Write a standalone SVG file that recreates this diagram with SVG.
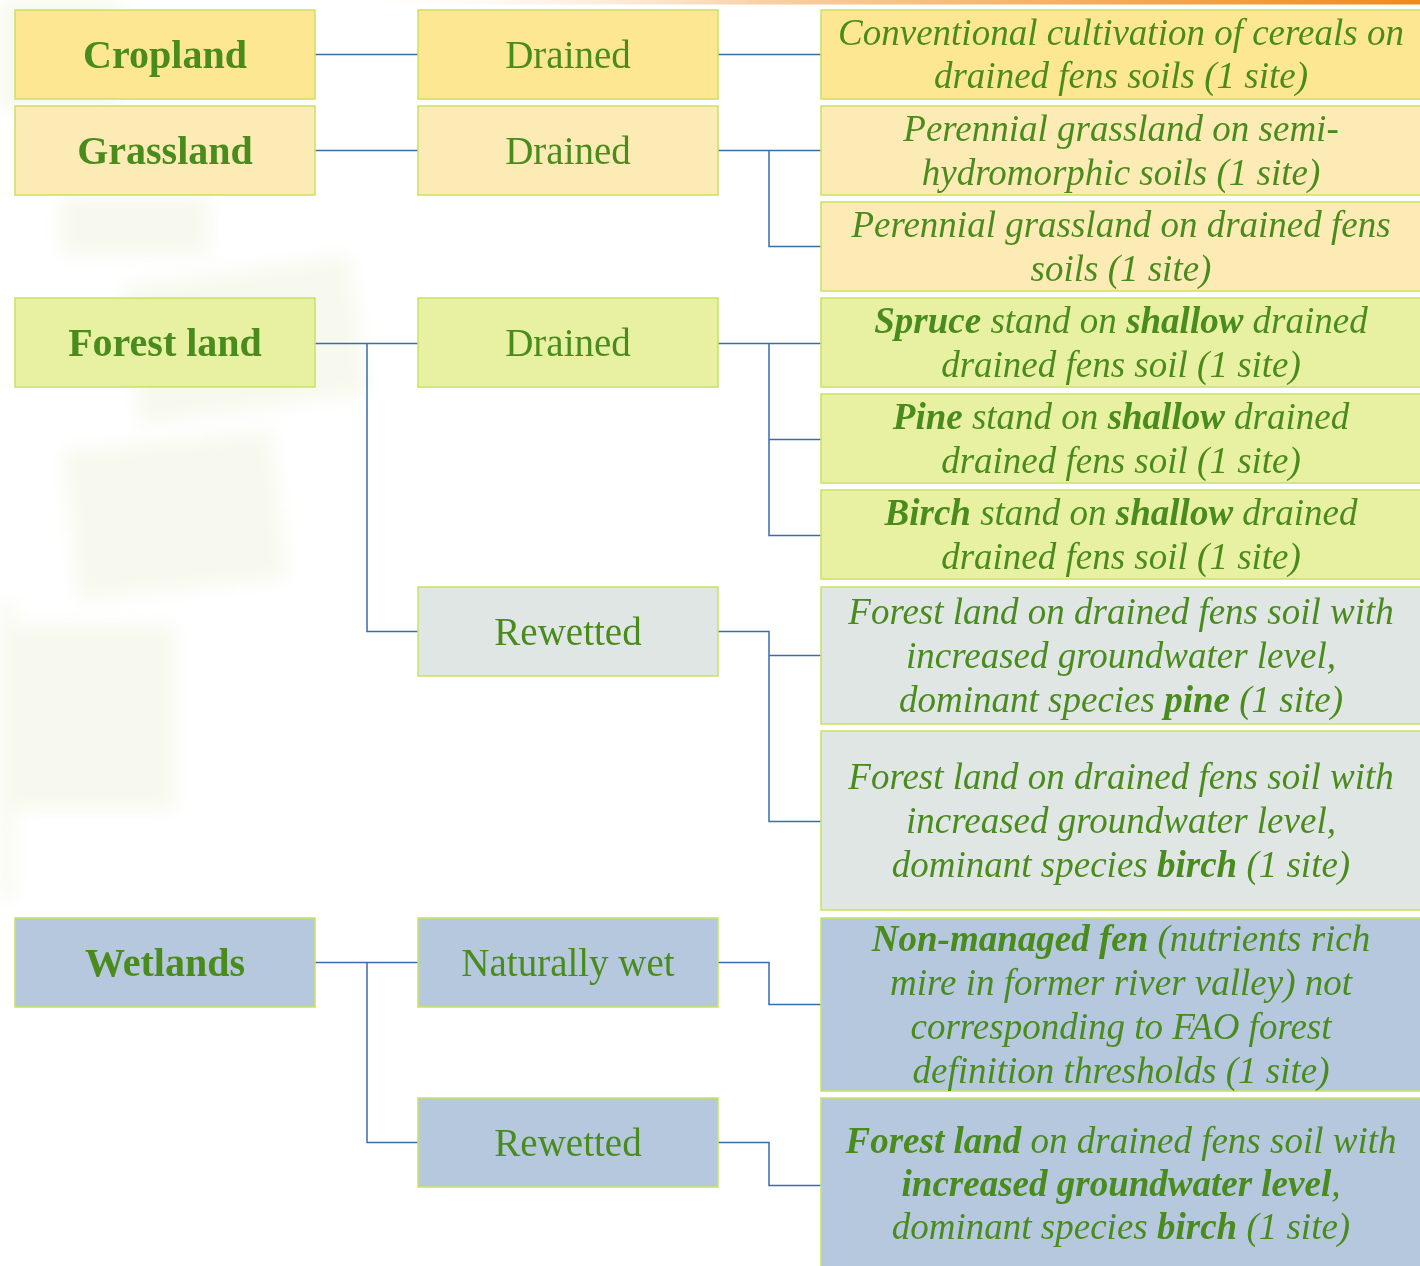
<svg xmlns="http://www.w3.org/2000/svg" width="1420" height="1266" viewBox="0 0 1420 1266">
<style>
.box{stroke:#C8E262;stroke-width:1.5}
.crop{fill:#FDE793}
.grass{fill:#FCEBB4}
.forest{fill:#E8F1A2}
.rewet{fill:#DFE6E4}
.wet{fill:#B5C8DD}
.t{font-family:"Liberation Serif","Times New Roman",serif;fill:#4A8B1D;text-anchor:middle}
.h1{font-size:40px;font-weight:bold}
.h2{font-size:39px}
.d{font-size:37px;font-style:italic}
.b{font-weight:bold}
.c{fill:none;stroke:#3A6BB1;stroke-width:1.5}
</style>
<defs>
<linearGradient id="topbar" x1="0" y1="0" x2="1" y2="0">
<stop offset="0" stop-color="#FFFFFF" stop-opacity="0"/>
<stop offset="0.4" stop-color="#F9CFA2"/>
<stop offset="1" stop-color="#F08A18"/>
</linearGradient>
<filter id="blur" x="-20%" y="-20%" width="140%" height="140%"><feGaussianBlur stdDeviation="9"/></filter>
</defs>
<rect x="0" y="0" width="1420" height="1266" fill="#FFFFFF"/>
<g id="background" filter="url(#blur)" fill="#F1F4E0" opacity="0.55">
<rect x="0" y="0" width="120" height="110"/>
<rect x="60" y="195" width="150" height="60"/>
<rect x="130" y="270" width="230" height="140" transform="rotate(-8 245 340)"/>
<rect x="70" y="440" width="210" height="150" transform="rotate(-6 175 515)"/>
<rect x="10" y="625" width="165" height="185"/>
<rect x="0" y="600" width="14" height="300"/>
</g>
<rect x="330" y="0" width="1090" height="4.5" fill="url(#topbar)"/>
<g id="connectors">
<path class="c" d="M315 54.5H418M718 54.5H821"/>
<path class="c" d="M315 150.5H418M718 150.5H821M769 150.5V246.5H821"/>
<path class="c" d="M315 343.5H418M367 343.5V631.5H418"/>
<path class="c" d="M718 343.5H821M769 343.5V535.5H821M769 439.5H821"/>
<path class="c" d="M718 631.5H769V821.5H821M769 655.5H821"/>
<path class="c" d="M315 962.5H418M367 962.5V1142.5H418"/>
<path class="c" d="M718 962.5H769V1004.5H821"/>
<path class="c" d="M718 1142.5H769V1185.5H821"/>
</g>
<g id="n-cropland"><rect class="box crop" x="15" y="10" width="300" height="89"/><text class="t h1" x="165" y="68">Cropland</text></g>
<g id="n-grassland"><rect class="box grass" x="15" y="106" width="300" height="89"/><text class="t h1" x="165" y="164">Grassland</text></g>
<g id="n-forestland"><rect class="box forest" x="15" y="298" width="300" height="89"/><text class="t h1" x="165" y="356">Forest land</text></g>
<g id="n-wetlands"><rect class="box wet" x="15" y="918" width="300" height="89"/><text class="t h1" x="165" y="976">Wetlands</text></g>

<g id="n-crop-drained"><rect class="box crop" x="418" y="10" width="300" height="89"/><text class="t h2" x="568" y="67.5">Drained</text></g>
<g id="n-grass-drained"><rect class="box grass" x="418" y="106" width="300" height="89"/><text class="t h2" x="568" y="163.5">Drained</text></g>
<g id="n-forest-drained"><rect class="box forest" x="418" y="298" width="300" height="89"/><text class="t h2" x="568" y="355.5">Drained</text></g>
<g id="n-forest-rewetted"><rect class="box rewet" x="418" y="587" width="300" height="89"/><text class="t h2" x="568" y="644.5">Rewetted</text></g>
<g id="n-naturally-wet"><rect class="box wet" x="418" y="918" width="300" height="89"/><text class="t h2" x="568" y="975.5">Naturally wet</text></g>
<g id="n-wet-rewetted"><rect class="box wet" x="418" y="1098" width="300" height="89"/><text class="t h2" x="568" y="1155.5">Rewetted</text></g>

<g id="n-cereals"><rect class="box crop" x="821" y="10" width="602" height="89"/>
<text class="t d"><tspan x="1121" y="45">Conventional cultivation of cereals on</tspan><tspan x="1121" y="88">drained fens soils (1 site)</tspan></text></g>
<g id="n-grass-semi"><rect class="box grass" x="821" y="106" width="602" height="89"/>
<text class="t d"><tspan x="1121" y="141">Perennial grassland on semi-</tspan><tspan x="1121" y="185">hydromorphic soils (1 site)</tspan></text></g>
<g id="n-grass-fens"><rect class="box grass" x="821" y="202" width="602" height="89"/>
<text class="t d"><tspan x="1121" y="237">Perennial grassland on drained fens</tspan><tspan x="1121" y="281">soils (1 site)</tspan></text></g>
<g id="n-spruce"><rect class="box forest" x="821" y="298" width="602" height="89"/>
<text class="t d"><tspan x="1121" y="333"><tspan class="b">Spruce</tspan> stand on <tspan class="b">shallow</tspan> drained</tspan><tspan x="1121" y="377">drained fens soil (1 site)</tspan></text></g>
<g id="n-pine"><rect class="box forest" x="821" y="394" width="602" height="89"/>
<text class="t d"><tspan x="1121" y="429"><tspan class="b">Pine</tspan> stand on <tspan class="b">shallow</tspan> drained</tspan><tspan x="1121" y="473">drained fens soil (1 site)</tspan></text></g>
<g id="n-birch"><rect class="box forest" x="821" y="490" width="602" height="89"/>
<text class="t d"><tspan x="1121" y="525"><tspan class="b">Birch</tspan> stand on <tspan class="b">shallow</tspan> drained</tspan><tspan x="1121" y="569">drained fens soil (1 site)</tspan></text></g>
<g id="n-rewet-pine"><rect class="box rewet" x="821" y="587" width="602" height="137"/>
<text class="t d"><tspan x="1121" y="623.5">Forest land on drained fens soil with</tspan><tspan x="1121" y="667.5">increased groundwater level,</tspan><tspan x="1121" y="711.5">dominant species <tspan class="b">pine</tspan> (1 site)</tspan></text></g>
<g id="n-rewet-birch"><rect class="box rewet" x="821" y="731" width="602" height="179"/>
<text class="t d"><tspan x="1121" y="788.5">Forest land on drained fens soil with</tspan><tspan x="1121" y="832.5">increased groundwater level,</tspan><tspan x="1121" y="876.5">dominant species <tspan class="b">birch</tspan> (1 site)</tspan></text></g>
<g id="n-nonmanaged"><rect class="box wet" x="821" y="918" width="602" height="173"/>
<text class="t d"><tspan x="1121" y="951"><tspan class="b">Non-managed fen</tspan> (nutrients rich</tspan><tspan x="1121" y="995">mire in former river valley) not</tspan><tspan x="1121" y="1039">corresponding to FAO forest</tspan><tspan x="1121" y="1083">definition thresholds (1 site)</tspan></text></g>
<g id="n-wet-forest-birch"><rect class="box wet" x="821" y="1098" width="602" height="175"/>
<text class="t d"><tspan x="1121" y="1153"><tspan class="b">Forest land</tspan> on drained fens soil with</tspan><tspan x="1121" y="1196"><tspan class="b">increased groundwater level</tspan>,</tspan><tspan x="1121" y="1239">dominant species <tspan class="b">birch</tspan> (1 site)</tspan></text></g>
</svg>
